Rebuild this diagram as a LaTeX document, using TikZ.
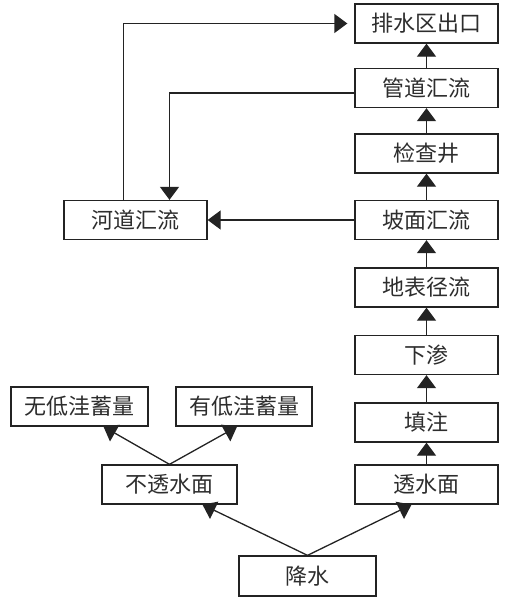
\documentclass[tikz,border=0pt]{standalone}
\usepackage{fontspec}
\newfontfamily\cjk{Noto Sans CJK SC}
\usepackage{tikz}
\usetikzlibrary{positioning,calc,arrows.meta}
\definecolor{lineGray}{RGB}{35, 35, 35}
\definecolor{textGray}{RGB}{45, 45, 45}

\begin{document}
\begin{tikzpicture}[x=1pt,y=-1pt,
        box/.style={draw=lineGray,line width=1.3pt,minimum width=143pt,minimum height=39pt,
                    inner sep=0pt,font=\cjk\fontsize{22}{25}\selectfont,text=textGray},
        flow/.style={draw=lineGray,line width=1.3pt,-{Triangle[width=19pt,length=13pt]}}
    ]
        \useasboundingbox (0,0) rectangle (504,597);

        % right column
        \node[box] (outlet) at (426.5,23.5) {排水区出口};
        \node[box] (pipe) at (426.5,88) {管道汇流};
        \node[box] (well) at (426.5,153.5) {检查井};
        \node[box] (slope) at (426.5,220) {坡面汇流};
        \node[box] (surface) at (426.5,287.5) {地表径流};
        \node[box] (infil) at (426.5,355) {下渗};
        \node[box] (fill) at (426.5,422.5) {填注};
        \node[box] (perv) at (426.5,484.5) {透水面};

        % left side
        \node[box] (river) at (135.5,220) {河道汇流};
        \node[box,minimum width=135pt] (imperv) at (169.5,484.5) {不透水面};
        \node[box,minimum width=137pt] (nodep) at (79.5,406.5) {无低洼蓄量};
        \node[box,minimum width=136pt] (dep) at (244,406.5) {有低洼蓄量};
        \node[box,minimum width=137pt,minimum height=40pt] (rain) at (307.5,576) {降水};

        % rain splits
        \draw[flow] (rain.north) -- ([xshift=33pt]imperv.south);
        \draw[flow] (rain.north) -- ([xshift=-15pt]perv.south);
        \draw[flow] (imperv.north) -- ([xshift=24pt]nodep.south);
        \draw[flow] (imperv.north) -- ([xshift=-7pt]dep.south);

        % upward chain
        \draw[flow] (perv) -- (fill);
        \draw[flow] (fill) -- (infil);
        \draw[flow] (infil) -- (surface);
        \draw[flow] (surface) -- (slope);
        \draw[flow] (slope) -- (well);
        \draw[flow] (well) -- (pipe);
        \draw[flow] (pipe) -- (outlet);

        % to the river
        \draw[flow] (slope) -- (river);
        \draw[flow] ([yshift=-5pt]pipe.west) -| ([xshift=34pt]river.north);
        \draw[flow,shorten >=7pt] ([xshift=-12pt]river.north) |- (outlet.west);
    \end{tikzpicture}
\end{document}
